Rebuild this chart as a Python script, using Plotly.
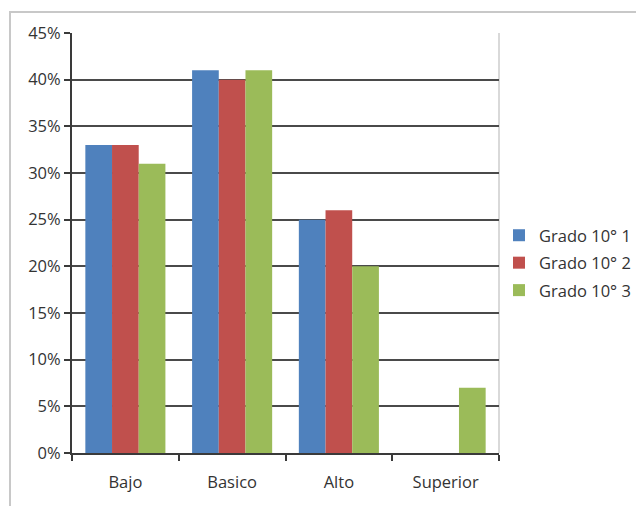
import plotly.graph_objects as go

# Performance levels per group (percent of students)
categories = ["Bajo", "Basico", "Alto", "Superior"]
grado_10_1 = [33, 41, 25, 0]
grado_10_2 = [33, 40, 26, 0]
grado_10_3 = [31, 41, 20, 7]
series_names = ["Grado 10° 1", "Grado 10° 2", "Grado 10° 3"]
series_colors = ["#4F81BD", "#C0504D", "#9BBB59"]
y_ticks = [0, 5, 10, 15, 20, 25, 30, 35, 40, 45]
y_tick_labels = [f"{v}%" for v in y_ticks]

W, H = 636, 506
ML, MR, MT, MB = 72, 137, 33, 53
PW, PH = W - ML - MR, H - MT - MB

fig = go.Figure()
for name, vals, color in zip(series_names, [grado_10_1, grado_10_2, grado_10_3], series_colors):
    fig.add_trace(go.Bar(
        x=categories, y=vals, name=name, legendgroup=name,
        marker=dict(color=color, line=dict(width=0)),
        hoverinfo="x+y+name",
    ))

text_font = dict(family="Open Sans", size=16.5, color="#333333")

fig.update_layout(
    width=W, height=H,
    margin=dict(l=ML, r=MR, t=MT, b=MB, autoexpand=False),
    paper_bgcolor="white", plot_bgcolor="white",
    barmode="group", bargap=0.25, bargroupgap=0,
    font=text_font,
    showlegend=True,
    legend=dict(
        x=(499 - ML) / PW, xanchor="left", y=(H - MB - 263) / PH, yanchor="middle",
        font=text_font, tracegroupgap=3, itemwidth=30,
        bgcolor="rgba(0,0,0,0)", borderwidth=0,
    ),
    xaxis=dict(
        type="category", showline=True, linecolor="#3a3a3a", linewidth=2,
        ticks="outside", tickson="boundaries", ticklen=6, tickcolor="#3a3a3a",
        tickwidth=2, showgrid=False, ticklabelstandoff=13, fixedrange=True,
    ),
    yaxis=dict(
        range=[0, 45], tickvals=y_ticks, ticktext=y_tick_labels,
        showgrid=True, gridcolor="#4a4a4a", gridwidth=2,
        zeroline=False, showline=True, linecolor="#3a3a3a", linewidth=2,
        ticks="outside", ticklen=6, tickcolor="#3a3a3a", tickwidth=2,
        fixedrange=True,
    ),
    shapes=[
        # light right-hand edge of the plotting area
        dict(type="line", xref="paper", yref="paper", x0=1, x1=1, y0=0, y1=1,
             line=dict(color="#d9d9d9", width=2), layer="below"),
        # outer chart frame
        dict(type="rect", xref="paper", yref="paper",
             x0=(10 - ML) / PW, x1=(W + 10 - ML) / PW,
             y0=-(H + 10 - (H - MB)) / PH, y1=((H - MB) - 12) / PH,
             line=dict(color="#c8c8c8", width=2), fillcolor="rgba(0,0,0,0)",
             layer="below"),
    ],
)

fig.write_html("out.html")
